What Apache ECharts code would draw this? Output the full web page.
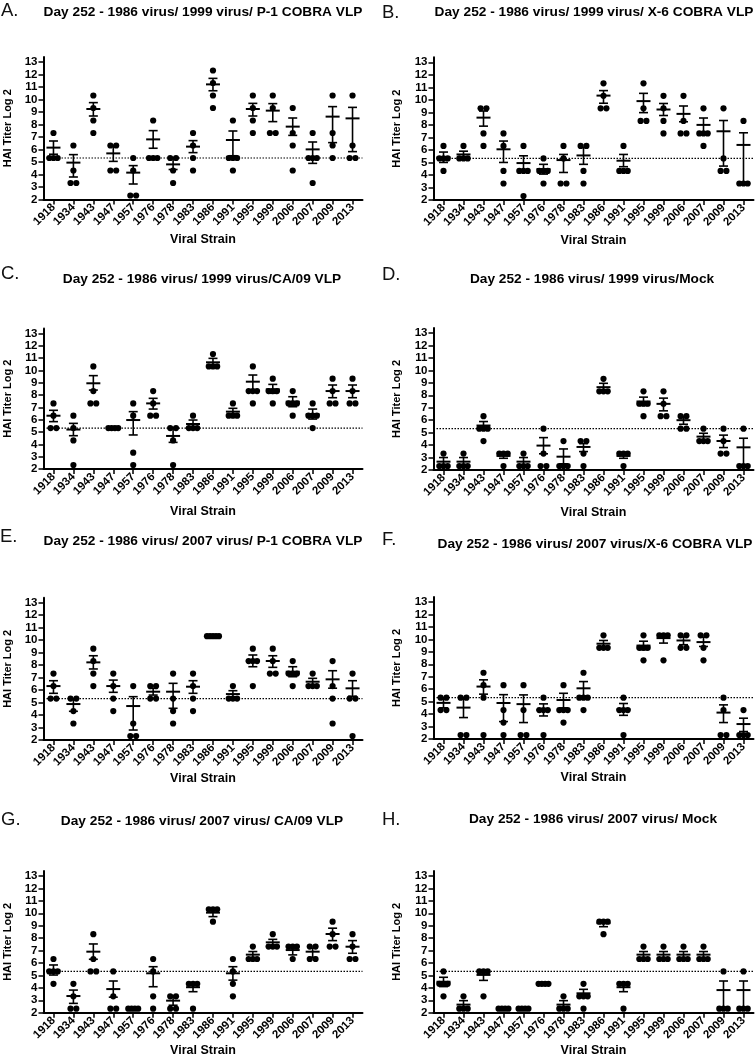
<!DOCTYPE html>
<html><head><meta charset="utf-8">
<script src="https://cdn.jsdelivr.net/npm/echarts@6/dist/echarts.min.js"></script>
<style>html,body{margin:0;padding:0;background:#fff}#c{width:756px;height:1060px}</style>
</head><body><div id="c"></div>
<script>
const categories = ['1918','1934','1943','1947','1957','1976','1978','1983','1986','1991','1995','1999','2006','2007','2009','2013'];
const yTickValues = [2,3,4,5,6,7,8,9,10,11,12,13];
const refTiter = 5.32;
const panelLetters = ['A.','B.','C.','D.','E.','F.','G.','H.'];
const panelTitles = [
  'Day 252 - 1986 virus/ 1999 virus/ P-1 COBRA VLP',
  'Day 252 - 1986 virus/ 1999 virus/ X-6 COBRA VLP',
  'Day 252 - 1986 virus/ 1999 virus/CA/09 VLP',
  'Day 252 - 1986 virus/ 1999 virus/Mock',
  'Day 252 - 1986 virus/ 2007 virus/ P-1 COBRA VLP',
  'Day 252 - 1986 virus/ 2007 virus/X-6 COBRA VLP',
  'Day 252 - 1986 virus/ 2007 virus/ CA/09 VLP',
  'Day 252 - 1986 virus/ 2007 virus/ Mock'
];
const yAxisName = 'HAI Titer Log 2';
const xAxisName = 'Viral Strain';

// Panel A
const dotsA = [[7.32,5.32,5.32,5.32],[6.32,4.32,3.32,3.32],[10.32,9.32,8.32,7.32],[6.32,6.32,4.32,4.32],[5.32,4.32,2.32,2.32],[8.32,5.32,5.32,5.32],[5.32,5.32,4.32,3.32],[7.32,6.32,5.32,4.32],[12.32,11.32,10.32,9.32],[8.32,5.32,5.32,5.32,4.32],[10.32,9.32,8.32,7.32],[10.32,9.32,7.32,7.32],[9.32,7.32,6.32,4.32],[7.32,5.32,5.32,5.32,3.32],[10.32,7.32,6.32,5.32],[10.32,6.32,5.32,5.32]];
const meanA = [6.15,4.95,9.24,5.69,4.15,6.81,4.81,6.23,11.21,6.76,9.24,9.11,7.83,6.01,8.63,8.49];
const hiA   = [6.68,5.59,9.75,6.3,4.71,7.51,5.3,6.71,11.69,7.48,9.69,9.67,8.52,6.6,9.43,9.37];
const loA   = [5.62,3.8,8.68,5.05,3.24,6.1,4.4,5.75,10.7,5.5,8.68,8.23,7.13,4.89,6.55,5.83];

// Panel B
const dotsB = [[6.32,5.32,5.32,5.32,4.32],[6.32,5.32,5.32,5.32],[9.32,9.32,7.32,6.32],[7.32,6.32,4.32,3.32],[6.32,4.32,4.32,4.32,2.32],[5.32,4.32,4.32,4.32,3.32],[6.32,5.32,3.32,3.32],[6.32,6.32,4.32,3.32],[11.32,10.32,9.32,9.32],[6.32,4.32,4.32,4.32],[11.32,9.32,8.32,8.32],[10.32,9.32,8.32,7.32],[10.32,8.32,7.32,7.32],[9.32,7.32,7.32,7.32,6.32],[9.32,5.32,4.32,4.32],[8.32,3.32,3.32,3.32]];
const meanB = [5.4,5.64,8.58,6.05,4.95,4.47,5.19,5.56,10.34,5.14,9.9,9.23,8.88,8.0,7.49,6.4];
const hiB   = [5.83,5.9,9.11,6.71,5.53,4.85,5.64,6.2,10.74,5.64,10.52,9.71,9.51,8.55,8.35,7.37];
const loB   = [5.0,5.37,7.9,5.0,4.24,4.07,4.2,4.85,9.73,4.66,8.98,8.75,8.25,7.44,4.71,3.4];

// Panel C
const dotsC = [[7.32,6.32,5.32,5.32],[6.32,5.32,4.32,2.32],[10.32,8.32,7.32,7.32],[5.32,5.32,5.32,5.32],[7.32,6.32,3.32,2.32],[8.32,7.32,6.32,6.32],[5.32,5.32,4.32,2.32],[6.32,5.32,5.32,5.32],[11.32,10.32,10.32,10.32],[7.32,6.32,6.32,6.32],[10.32,8.32,8.32,8.32,7.32],[9.32,8.32,8.32,8.32,7.32],[8.32,7.32,7.32,7.32,6.32],[7.32,6.32,6.32,6.32,5.32],[9.32,8.32,7.32,7.32],[9.32,8.32,7.32,7.32]];
const meanC = [6.32,5.2,8.95,5.32,5.97,7.32,4.68,5.65,10.65,6.65,9.08,8.46,7.46,6.43,8.32,8.32];
const hiC   = [6.76,5.7,9.57,5.32,6.65,7.73,5.32,5.97,10.97,6.92,9.62,8.86,7.86,6.86,8.81,8.81];
const loC   = [5.84,4.7,8.4,5.32,4.76,6.86,4.16,5.35,10.33,6.38,8.4,8.14,7.05,6.05,7.78,7.78];

// Panel D
const dotsD = [[3.32,2.32,2.32,2.32],[3.32,2.32,2.32,2.32],[6.32,5.32,5.32,5.32,4.32],[3.32,3.32,3.32,2.32],[3.32,2.32,2.32,2.32],[5.32,3.32,2.32,2.32],[4.32,2.32,2.32,2.32],[4.32,4.32,3.32,2.32],[9.32,8.32,8.32,8.32],[3.32,3.32,3.32,2.32],[8.32,7.32,7.32,7.32,6.32],[8.32,7.32,6.32,6.32],[6.32,6.32,5.32,5.32],[5.32,4.32,4.32,4.32],[5.32,4.32,3.32,3.32],[5.32,2.32,2.32,2.32]];
const meanD = [2.67,2.67,5.57,3.13,2.67,3.96,3.07,3.85,8.65,3.13,7.5,7.31,6.0,4.68,4.33,3.82];
const hiD   = [3.0,3.0,5.89,3.3,3.0,4.6,3.69,4.12,8.96,3.3,7.85,7.77,6.3,4.95,4.8,4.55];
const loD   = [2.32,2.32,5.22,2.94,2.32,3.3,2.5,3.48,8.34,2.94,7.18,6.75,5.67,4.41,3.8,2.32];

// Panel E
const dotsE = [[7.32,6.32,5.32,5.32],[5.32,5.32,4.32,3.32],[9.32,8.32,7.32,6.32],[7.32,6.32,5.32,4.32],[6.32,3.32,2.32,2.32],[6.32,6.32,5.32,5.32],[7.32,5.32,4.32,3.32],[7.32,6.32,5.32,4.32],[10.32,10.32,10.32,10.32,10.32],[6.32,5.32,5.32,5.32],[9.32,8.32,8.32,8.32,6.32],[9.32,8.32,7.32,7.32],[8.32,7.32,7.32,7.32,6.32],[7.32,6.32,6.32,6.32],[8.32,6.32,5.32,3.32],[7.32,5.32,5.32,2.32]];
const meanE = [6.32,4.88,8.22,6.32,4.72,5.87,5.87,6.27,10.32,5.68,8.33,8.33,7.47,6.67,6.86,6.14];
const hiE   = [6.75,5.3,8.75,6.8,5.47,6.14,6.54,6.75,10.32,5.95,8.81,8.75,7.87,6.94,7.55,6.75];
const loE   = [5.74,4.3,7.69,5.82,2.8,5.6,4.54,5.74,10.32,5.41,7.87,7.82,7.07,6.35,6.15,5.5];

// Panel F
const dotsF = [[5.32,5.32,4.32,4.32],[5.32,5.32,2.32,2.32],[7.32,6.32,5.32,2.32],[6.32,4.32,3.32,2.32],[6.32,4.32,2.32,2.32],[5.32,4.32,4.32,4.32,2.32],[6.32,4.32,4.32,4.32,3.32],[7.32,5.32,5.32,5.32,4.32],[10.32,9.32,9.32,9.32],[5.32,4.32,4.32,4.32,2.32],[10.32,9.32,9.32,9.32,8.32],[10.32,10.32,10.32,8.32],[10.32,10.32,9.32,9.32],[10.32,10.32,9.32,8.32],[5.32,4.32,2.32,2.32],[4.32,2.32,2.32,2.32]];
const meanF = [4.9,4.52,6.21,4.89,4.8,4.33,5.13,6.07,9.65,4.37,9.5,10.1,9.91,9.78,4.12,3.2];
const hiF   = [5.3,5.32,6.75,5.56,5.54,4.82,5.67,6.61,9.91,4.85,9.85,10.3,10.2,10.18,4.74,3.67];
const loF   = [4.5,3.72,5.6,3.4,3.32,3.85,4.5,5.45,9.33,3.9,9.16,9.7,9.57,9.43,3.32,2.6];

// Panel G
const dotsG = [[6.32,5.32,5.32,5.32,4.32],[4.32,3.32,2.32,2.32],[8.32,6.32,5.32,5.32],[5.32,3.32,2.32,2.32],[2.32,2.32,2.32,2.32],[6.32,5.32,3.32,2.32],[3.32,3.32,2.32,2.32],[4.32,4.32,4.32,2.32],[10.32,10.32,10.32,9.32],[6.32,5.32,4.32,3.32],[7.32,6.32,6.32,6.32],[8.32,7.32,7.32,7.32],[7.32,7.32,7.32,6.32],[7.32,7.32,6.32,6.32],[9.32,8.32,7.32,7.32],[8.32,7.32,6.32,6.32]];
const meanG = [5.38,3.34,6.91,3.9,2.32,5.17,2.97,4.05,10.05,5.17,6.67,7.66,7.04,6.91,8.33,7.31];
const hiG   = [5.84,3.82,7.53,4.55,2.32,5.7,3.32,4.32,10.32,5.7,6.92,7.9,7.32,7.2,8.8,7.8];
const loG   = [5.03,2.75,6.3,3.25,2.32,4.09,2.6,3.69,9.73,4.62,6.38,7.3,6.65,6.45,7.8,6.78];

// Panel H
const dotsH = [[5.32,4.32,4.32,4.32,3.32],[3.32,2.32,2.32,2.32],[5.32,5.32,5.32,3.32],[2.32,2.32,2.32,2.32],[2.32,2.32,2.32,2.32],[4.32,4.32,4.32,4.32],[3.32,2.32,2.32,2.32],[4.32,3.32,3.32,3.32,2.32],[9.32,9.32,9.32,8.32],[4.32,4.32,4.32,2.32],[7.32,6.32,6.32,6.32],[7.32,6.32,6.32,6.32],[7.32,6.32,6.32,6.32],[7.32,6.32,6.32,6.32],[5.32,2.32,2.32,2.32],[5.32,2.32,2.32,2.32]];
const meanH = [4.49,2.65,5.04,2.32,2.32,4.32,2.65,3.56,9.2,4.05,6.67,6.67,6.67,6.67,3.82,3.82];
const hiH   = [4.85,2.97,5.3,2.32,2.32,4.32,2.97,3.88,9.32,4.32,6.92,6.92,6.92,6.92,4.55,4.55];
const loH   = [4.1,2.32,4.6,2.32,2.32,4.32,2.32,3.24,8.92,3.69,6.38,6.38,6.38,6.38,2.32,2.32];

const panels = [
  {dots:dotsA, mean:meanA, hi:hiA, lo:loA},
  {dots:dotsB, mean:meanB, hi:hiB, lo:loB},
  {dots:dotsC, mean:meanC, hi:hiC, lo:loC},
  {dots:dotsD, mean:meanD, hi:hiD, lo:loD},
  {dots:dotsE, mean:meanE, hi:hiE, lo:loE},
  {dots:dotsF, mean:meanF, hi:hiF, lo:loF},
  {dots:dotsG, mean:meanG, hi:hiG, lo:loG},
  {dots:dotsH, mean:meanH, hi:hiH, lo:loH}
];

// ---------- layout / style ----------
const FONT = "'Liberation Sans', Arial, Helvetica, sans-serif";
const layout = [
  {left:43.5, top:57,    width:319, height:142.5, tx:203, ty:12.5, lx:1,   ly:11,  xGap:34, yGap:30},
  {left:433.5,top:57.3,  width:320, height:142.7, tx:594, ty:12.5, lx:382, ly:13,  xGap:34, yGap:31},
  {left:43.5, top:328.4, width:319, height:140.6, tx:202, ty:279,  lx:1,   ly:274, xGap:36, yGap:30},
  {left:433.5,top:328,   width:320, height:142,   tx:592, ty:279,  lx:382, ly:275, xGap:36, yGap:31},
  {left:43.5, top:597.7, width:319, height:142.3, tx:203, ty:541,  lx:0,   ly:537, xGap:32, yGap:30},
  {left:433.5,top:597,   width:320, height:142,   tx:595, ty:544,  lx:382, ly:540, xGap:32, yGap:31},
  {left:43.5, top:871,   width:319, height:141.7, tx:202, ty:821,  lx:1,   ly:820, xGap:31, yGap:30},
  {left:433.5,top:871,   width:320, height:141.7, tx:593, ty:819,  lx:382, ly:820, xGap:31, yGap:31}
];
const DOT_R = 3.1;
const SPREAD = {1:0, 2:5.8, 3:4.2, 4:3.3, 5:3.0};

function makeRender(p) {
  return function (params, api) {
    const i = params.dataIndex;
    const cs = params.coordSys;
    const children = [];
    if (i === 0) {
      const yr = api.coord([0, refTiter])[1];
      children.push({type:'line', shape:{x1:cs.x, y1:yr, x2:cs.x + cs.width, y2:yr},
        style:{stroke:'#000', lineWidth:1.2, lineDash:[1.5,1.5]}});
    }
    const cx = api.coord([i, p.mean[i]])[0];
    const counts = {};
    p.dots[i].forEach(v => { counts[v] = (counts[v] || 0) + 1; });
    Object.keys(counts).forEach(k => {
      const v = parseFloat(k), n = counts[k];
      const sp = SPREAD[n] !== undefined ? SPREAD[n] : 3.0;
      const y = api.coord([i, v])[1];
      for (let j = 0; j < n; j++) {
        const dx = (j - (n - 1) / 2) * sp;
        children.push({type:'circle', shape:{cx:cx + dx, cy:y, r:DOT_R}, style:{fill:'#000'}});
      }
    });
    const ym = api.coord([i, p.mean[i]])[1];
    const yh = api.coord([i, p.hi[i]])[1];
    const yl = api.coord([i, p.lo[i]])[1];
    const ls = {stroke:'#000', lineWidth:1.6};
    children.push({type:'line', shape:{x1:cx, y1:yh, x2:cx, y2:yl}, style:ls});
    children.push({type:'line', shape:{x1:cx - 4.5, y1:yh, x2:cx + 4.5, y2:yh}, style:ls});
    children.push({type:'line', shape:{x1:cx - 4.5, y1:yl, x2:cx + 4.5, y2:yl}, style:ls});
    children.push({type:'line', shape:{x1:cx - 7, y1:ym, x2:cx + 7, y2:ym}, style:{stroke:'#000', lineWidth:2}});
    return {type:'group', children};
  };
}

const grid = [], xAxis = [], yAxis = [], series = [], graphic = [];
panels.forEach((p, k) => {
  const L = layout[k];
  grid.push({left:L.left, top:L.top, width:L.width, height:L.height, containLabel:false});
  xAxis.push({
    type:'category', gridIndex:k, data:categories, boundaryGap:true,
    axisLine:{show:true, lineStyle:{color:'#000', width:2}},
    axisTick:{show:true, alignWithLabel:true, length:5, lineStyle:{color:'#000', width:1.5}},
    axisLabel:{interval:0, rotate:45, margin:6, color:'#000', fontSize:11.5, fontWeight:'bold', fontFamily:FONT},
    splitLine:{show:false},
    name:xAxisName, nameLocation:'middle', nameGap:L.xGap,
    nameTextStyle:{color:'#000', fontSize:12.5, fontWeight:'bold', fontFamily:FONT}
  });
  yAxis.push({
    type:'value', gridIndex:k, min:2, max:13.4,
    axisLine:{show:true, lineStyle:{color:'#000', width:2}},
    axisTick:{show:true, length:5, customValues:yTickValues, lineStyle:{color:'#000', width:1.5}},
    axisLabel:{customValues:yTickValues, margin:6, color:'#000', fontSize:11.5, fontWeight:'bold', fontFamily:FONT},
    splitLine:{show:false},
    name:yAxisName, nameLocation:'middle', nameGap:L.yGap,
    nameTextStyle:{color:'#000', fontSize:11, fontWeight:'bold', fontFamily:FONT}
  });
  series.push({
    type:'custom', coordinateSystem:'cartesian2d', xAxisIndex:k, yAxisIndex:k,
    data:categories.map((c, i) => [i, p.mean[i]]),
    renderItem:makeRender(p), clip:false, silent:true
  });
  graphic.push({type:'text', x:L.tx, y:L.ty,
    style:{text:panelTitles[k], fill:'#000', font:'bold 13.7px ' + FONT, textAlign:'center', textVerticalAlign:'middle'}});
  graphic.push({type:'text', x:L.lx, y:L.ly,
    style:{text:panelLetters[k], fill:'#111', font:'18.5px ' + FONT, textAlign:'left', textVerticalAlign:'middle'}});
});

const chart = echarts.init(document.getElementById('c'), null, {renderer:'canvas'});
chart.setOption({
  backgroundColor:'#fff', animation:false,
  grid, xAxis, yAxis, series, graphic
});
</script></body></html>
